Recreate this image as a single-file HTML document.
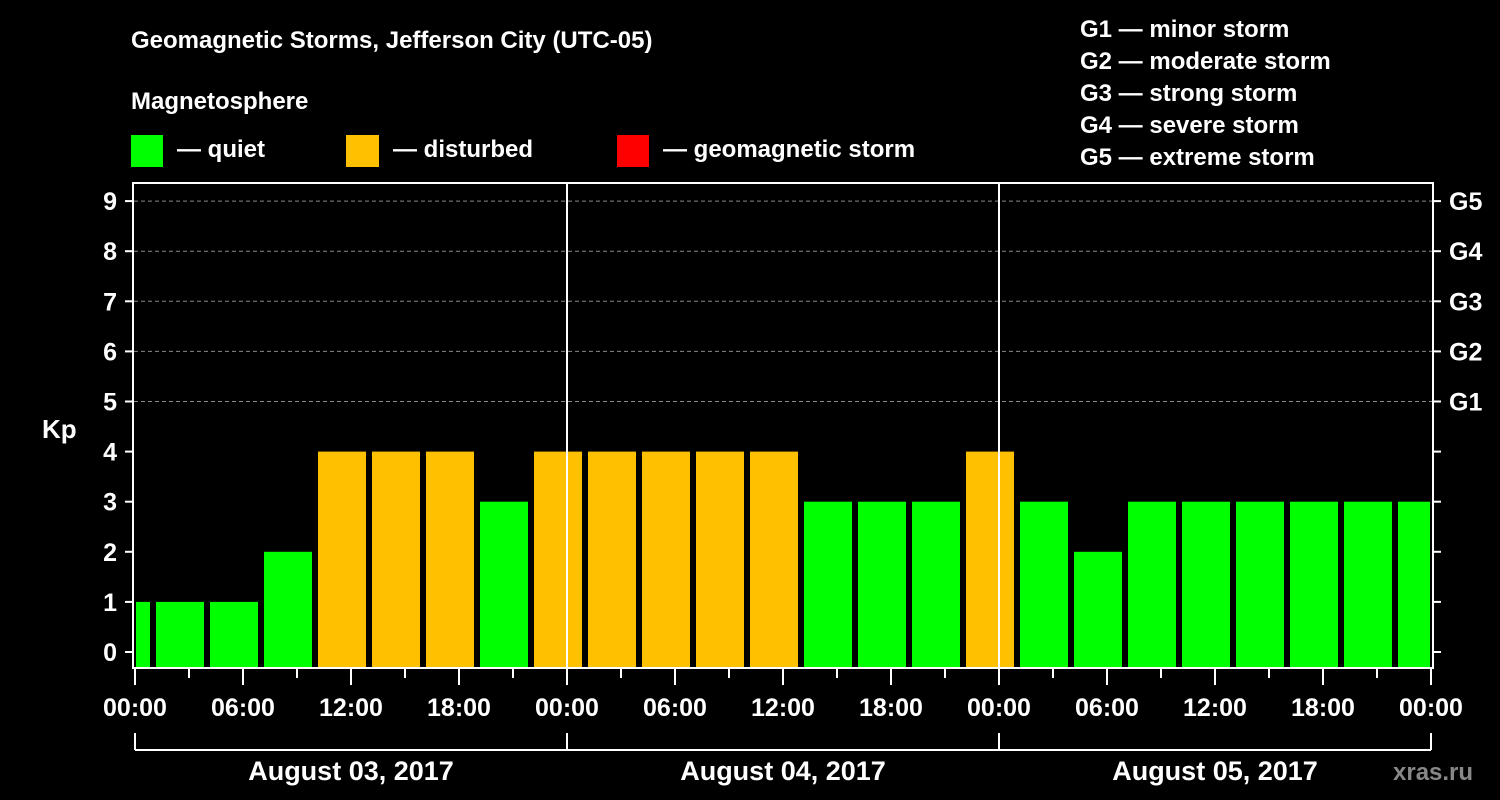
<!DOCTYPE html>
<html><head><meta charset="utf-8"><style>
html,body{margin:0;padding:0;background:#000;width:1500px;height:800px;overflow:hidden}
svg text{font-family:"Liberation Sans",Arial,sans-serif;font-weight:bold;fill:#fff}
</style></head><body>
<svg id="chart" width="1500" height="800" viewBox="0 0 1500 800" xmlns="http://www.w3.org/2000/svg">
<rect width="1500" height="800" fill="#000"/>
<text x="131" y="48" font-size="24">Geomagnetic Storms, Jefferson City (UTC-05)</text>
<text x="131" y="109" font-size="24">Magnetosphere</text>
<g><rect x="131" y="135" width="32" height="32" fill="#00ff00"/><text x="177" y="157" font-size="24">— quiet</text></g>
<g><rect x="346" y="135" width="33" height="32" fill="#ffc000"/><text x="393" y="157" font-size="24">— disturbed</text></g>
<g><rect x="617" y="135" width="32" height="32" fill="#ff0000"/><text x="663" y="157" font-size="24">— geomagnetic storm</text></g>
<g font-size="24">
<text x="1080" y="37">G1 — minor storm</text>
<text x="1080" y="69">G2 — moderate storm</text>
<text x="1080" y="101">G3 — strong storm</text>
<text x="1080" y="133">G4 — severe storm</text>
<text x="1080" y="165">G5 — extreme storm</text>
</g>
<text x="42" y="438" font-size="26">Kp</text>
<text x="1393" y="780" font-size="24" style="fill:#888">xras.ru</text>
<g id="grid"></g><g id="bars"></g><g id="axes"></g>
</svg>
<script>
const kpValues=[1,1,1,2,4,4,4,3,4,4,4,4,4,3,3,3,4,3,2,3,3,3,3,3,3];
const slotStartHours=[-2,1,4,7,10,13,16,19,22,25,28,31,34,37,40,43,46,49,52,55,58,61,64,67,70];
const xTickLabels=["00:00","06:00","12:00","18:00","00:00","06:00","12:00","18:00","00:00","06:00","12:00","18:00","00:00"];
const dayLabels=["August 03, 2017","August 04, 2017","August 05, 2017"];
const gLabels=["G1","G2","G3","G4","G5"];
const L=134,R=1432,T=183,B=668,H0=652,perKp=50.1,HOURS=72;
const xS=h=>L+1+(h/HOURS)*(R-L-2);
const yS=v=>H0-v*perKp;
const NS="http://www.w3.org/2000/svg";
function mk(p,tag,at){const e=document.createElementNS(NS,tag);for(const k in at)e.setAttribute(k,at[k]);document.getElementById(p).appendChild(e);return e;}
// grid
for(let v=5;v<=9;v++){const e=mk('grid','line',{x1:L,x2:R,y1:yS(v),y2:yS(v),stroke:'#888','stroke-dasharray':'4,3','stroke-width':1});

}
// bars
kpValues.forEach((v,i)=>{let x0=xS(slotStartHours[i])+3,x1=xS(slotStartHours[i]+3)-3;x0=Math.max(x0,L+2);x1=Math.min(x1,R-2);
const c=v>=5?'#ff0000':(v>=4?'#ffc000':'#00ff00');
const e=mk('bars','rect',{x:x0,y:yS(v),width:x1-x0,height:B-yS(v),fill:c});

});
// day separators
for(let d=1;d<3;d++){const e=mk('axes','line',{x1:xS(d*24),x2:xS(d*24),y1:T,y2:B,stroke:'#fff','stroke-width':2});

}
// frame
const fr=mk('axes','rect',{x:L-1,y:T,width:R-L+2,height:B-T,fill:'none',stroke:'#fff','stroke-width':2});


// y ticks
for(let v=0;v<=9;v++){const y=yS(v);
mk('axes','line',{x1:L-9,x2:L-1,y1:y,y2:y,stroke:'#fff','stroke-width':2});
mk('axes','line',{x1:R+1,x2:R+9,y1:y,y2:y,stroke:'#fff','stroke-width':2});
const t=mk('axes','text',{x:L-17,y:y+9,'font-size':25,'text-anchor':'end'});t.textContent=v;

}
gLabels.forEach((g,i)=>{const t=mk('axes','text',{x:1449,y:yS(5+i)+9,'font-size':25});t.textContent=g;

});
// x ticks
for(let h=0;h<=HOURS;h+=3){const x=xS(h);const major=h%6==0;
mk('axes','line',{x1:x,x2:x,y1:B,y2:B+(major?17:10),stroke:'#fff','stroke-width':2});}
xTickLabels.forEach((s,i)=>{const t=mk('axes','text',{x:xS(i*6),y:716,'font-size':25,'text-anchor':'middle'});t.textContent=s;

});
// day brackets
mk('axes','line',{x1:xS(0),x2:xS(72),y1:750,y2:750,stroke:'#fff','stroke-width':2});
for(let d=0;d<=3;d++)mk('axes','line',{x1:xS(d*24),x2:xS(d*24),y1:733,y2:750,stroke:'#fff','stroke-width':2});
dayLabels.forEach((s,i)=>{const t=mk('axes','text',{x:xS(i*24+12),y:780,'font-size':27,'text-anchor':'middle'});t.textContent=s;

});
</script>
</body></html>
